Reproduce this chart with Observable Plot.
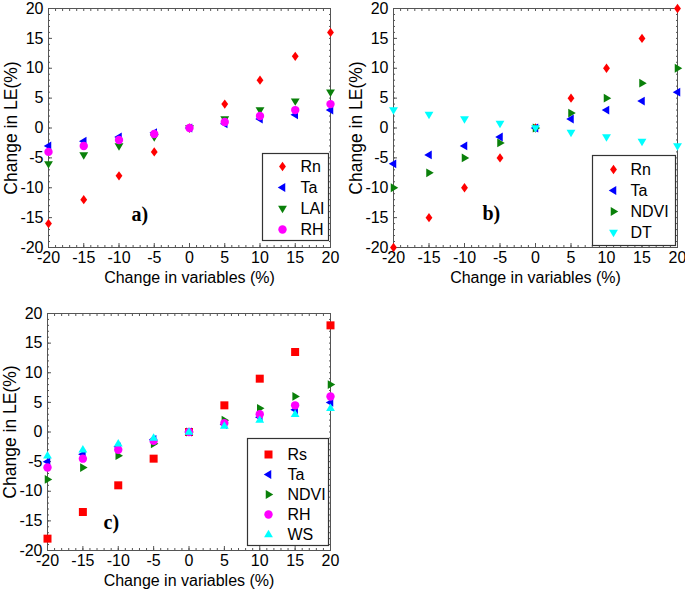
<!DOCTYPE html>
<html><head><meta charset="utf-8">
<script src="https://cdn.jsdelivr.net/npm/d3@7"></script>
<script src="https://cdn.jsdelivr.net/npm/@observablehq/plot@0.6"></script>
<style>
body{margin:0;background:#fff;}
#wrap{position:relative;width:685px;height:589px;font-family:"Liberation Sans",Arial,sans-serif;overflow:hidden;}
.pos{position:absolute;}
</style></head><body><div id="wrap"></div>
<script>
// ---- data ----
const changes = [-20,-15,-10,-5,0,5,10,15,20];
const tickValues = [-20,-15,-10,-5,0,5,10,15,20];
const xLabel = "Change in variables (%)";
const yLabel = "Change in LE(%)";
// panel a
const aRn  = [-16,-12,-8,-4,0,4,8,12,16];
const aTa  = [-3,-2.2,-1.5,-0.8,0,0.7,1.5,2.2,3];
const aLAI = [-6,-4.5,-3,-1.5,0,1.5,3,4.5,6];
const aRH  = [-4,-3,-2,-1,0,1,2,3,4];
// panel b
const bRn   = [-20,-15,-10,-5,0,5,10,15,20];
const bTa   = [-6,-4.5,-3,-1.5,0,1.5,3,4.5,6];
const bNDVI = [-10,-7.5,-5,-2.5,0,2.5,5,7.5,10];
const bDT   = [3,2.25,1.5,0.75,0,-0.75,-1.5,-2.25,-3];
// panel c
const cRs   = [-18,-13.5,-9,-4.5,0,4.5,9,13.5,18];
const cTa   = [-5,-3.75,-2.5,-1.25,0,1.25,2.5,3.75,5];
const cNDVI = [-8,-6,-4,-2,0,2,4,6,8];
const cRH   = [-6,-4.5,-3,-1.5,0,1.5,3,4.5,6];
const cWS   = [-4,-3,-2,-1,0,1,2,3,4];

// ---- symbols ----
const mk = pts => ({draw(ctx, size){ const r = Math.sqrt(size/Math.PI); ctx.moveTo(pts[0][0]*r, pts[0][1]*r); for (let i=1;i<pts.length;i++) ctx.lineTo(pts[i][0]*r, pts[i][1]*r); ctx.closePath(); }});
const SYM = {
  diamond: mk([[0,-1.5],[1.1,0],[0,1.5],[-1.1,0]]),
  triLeft: mk([[-1.4,0],[0.8,-1.3],[0.8,1.3]]),
  triRight: mk([[1.4,0],[-0.8,-1.3],[-0.8,1.3]]),
  triDown: mk([[-1.3,-0.8],[1.3,-0.8],[0,1.4]]),
  triUp: mk([[-1.3,0.8],[1.3,0.8],[0,-1.4]]),
  square: mk([[-1,-1],[1,-1],[1,1],[-1,1]]),
  circle: "circle"
};
const RADIUS = {diamond:3.1, triLeft:3.4, triRight:3.4, triDown:3.4, triUp:3.4, square:4, circle:4.2};
const COL = {red:"#ff0000", blue:"#0000ff", green:"#0a800a", magenta:"#ff00ff", cyan:"#00ffff"};

const panels = [
  {left:0, top:0, width:340, height:290, m:[8,10,43,48], letter:"a)", letterDx:83, letterDy:-27,
   series:[{name:"Rn", v:aRn, sym:"diamond", col:"red"},{name:"Ta", v:aTa, sym:"triLeft", col:"blue"},
           {name:"LAI", v:aLAI, sym:"triDown", col:"green"},{name:"RH", v:aRH, sym:"circle", col:"magenta"}],
   legend:{left:262, top:153, width:66, height:87, range:[13,76], sx:20, tx:38}},
  {left:340, top:0, width:345, height:290, m:[8,8,43,53], letter:"b)", letterDx:89, letterDy:-28,
   series:[{name:"Rn", v:bRn, sym:"diamond", col:"red"},{name:"Ta", v:bTa, sym:"triLeft", col:"blue"},
           {name:"NDVI", v:bNDVI, sym:"triRight", col:"green"},{name:"DT", v:bDT, sym:"triDown", col:"cyan"}],
   legend:{left:592, top:155, width:83, height:90, range:[14,77], sx:21, tx:38}},
  {left:0, top:295, width:340, height:294, m:[18,10,39,47], letter:"c)", letterDx:56, letterDy:-22,
   series:[{name:"Rs", v:cRs, sym:"square", col:"red"},{name:"Ta", v:cTa, sym:"triLeft", col:"blue"},
           {name:"NDVI", v:cNDVI, sym:"triRight", col:"green"},{name:"RH", v:cRH, sym:"circle", col:"magenta"},
           {name:"WS", v:cWS, sym:"triUp", col:"cyan"}],
   legend:{left:247, top:438, width:81, height:107, range:[14,97], sx:21, tx:40}}
];

const minor = d3.range(-20, 21, 1);
const wrap = document.getElementById("wrap");
const font = "'Liberation Sans', Arial, sans-serif";

for (const p of panels) {
  const [mt, mr, mb, ml] = p.m;
  const dotMarks = p.series.map(s => Plot.dot(changes.map((x,i) => ({x, y: s.v[i]})), {
    x: "x", y: "y", symbol: SYM[s.sym], r: RADIUS[s.sym], fill: COL[s.col], stroke: "none"
  }));
  const noText = () => "";
  const chart = Plot.plot({
    width: p.width, height: p.height,
    marginTop: mt, marginRight: mr, marginBottom: mb, marginLeft: ml,
    style: {fontFamily: font, fontSize: "16px", color: "#000", background: "transparent", overflow: "visible"},
    x: {domain: [-20, 20]},
    y: {domain: [-20, 20]},
    marks: [
      // minor ticks (inward)
      Plot.axisX(minor, {anchor: "bottom", tickSize: 2, dy: -2, tickFormat: noText, label: null, stroke: "#555"}),
      Plot.axisX(minor, {anchor: "top", tickSize: 2, dy: 2, tickFormat: noText, label: null, stroke: "#555"}),
      Plot.axisY(minor, {anchor: "left", tickSize: 2, dx: 2, tickFormat: noText, label: null, stroke: "#555"}),
      Plot.axisY(minor, {anchor: "right", tickSize: 2, dx: -2, tickFormat: noText, label: null, stroke: "#555"}),
      // major ticks (inward)
      Plot.axisX(tickValues, {anchor: "bottom", tickSize: 4, dy: -4, tickFormat: noText, label: null, stroke: "#555"}),
      Plot.axisY(tickValues, {anchor: "left", tickSize: 4, dx: 4, tickFormat: noText, label: null, stroke: "#555"}),
      // tick labels and titles
      Plot.axisX(tickValues, {anchor: "bottom", tickSize: 0, tickPadding: 4, tickFormat: d => String(d),
        label: xLabel, labelAnchor: "center", labelOffset: 35, labelArrow: false}),
      Plot.axisY(tickValues, {anchor: "left", tickSize: 0, tickPadding: 5, tickFormat: d => String(d),
        label: null}),
      Plot.axisY([], {anchor: "left", tickSize: 0, label: yLabel, labelAnchor: "center", labelOffset: 44,
        labelArrow: false, fontSize: 17.5}),
      Plot.frame({stroke: "#555", strokeWidth: 1}),
      ...dotMarks,
      Plot.text([p.letter], {frameAnchor: "bottom-left", dx: p.letterDx, dy: p.letterDy,
        fontFamily: "'Liberation Serif', 'Times New Roman', serif", fontWeight: "bold", fontSize: 20, fill: "#000"})
    ]
  });
  chart.classList.add("pos");
  chart.style.left = p.left + "px";
  chart.style.top = p.top + "px";
  wrap.appendChild(chart);

  // legend
  const L = p.legend;
  const names = p.series.map(s => s.name);
  const legMarks = p.series.map(s => Plot.dot([s.name], {
    y: d => d, frameAnchor: "left", dx: L.sx, symbol: SYM[s.sym], r: RADIUS[s.sym], fill: COL[s.col], stroke: "none"
  }));
  const leg = Plot.plot({
    width: L.width, height: L.height, margin: 0,
    style: {fontFamily: font, fontSize: "16px", background: "#fff", overflow: "visible"},
    y: {type: "point", domain: names, range: L.range, padding: 0, axis: null},
    marks: [
      Plot.frame({stroke: "#333", strokeWidth: 1.2}),
      ...legMarks,
      Plot.text(names, {y: d => d, text: d => d, frameAnchor: "left", dx: L.tx, textAnchor: "start",
        fontSize: 16, fill: "#000"})
    ]
  });
  leg.classList.add("pos");
  leg.style.left = L.left + "px";
  leg.style.top = L.top + "px";
  wrap.appendChild(leg);
}
</script></body></html>
